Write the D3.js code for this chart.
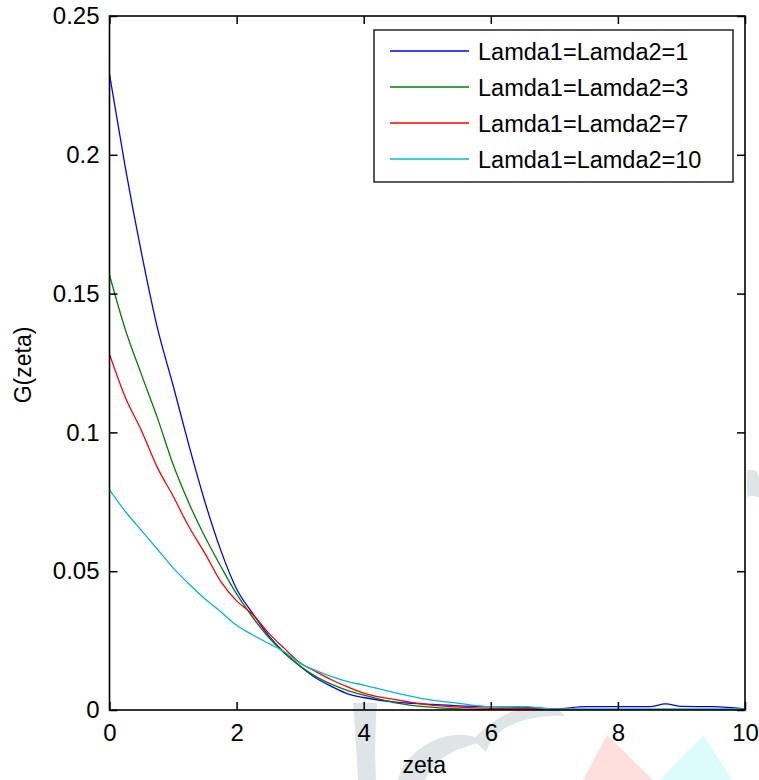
<!DOCTYPE html>
<html>
<head>
<meta charset="utf-8">
<script src="https://cdn.jsdelivr.net/npm/d3@7"></script>
<style>
  html, body { margin: 0; padding: 0; background: #fff; }
  svg { display: block; font-family: "Liberation Sans", Arial, sans-serif; }
</style>
</head>
<body>
<svg id="chart" width="759" height="780"></svg>
<script>
// ---- data ----
const zeta = [0, 0.25, 0.5, 0.75, 1, 1.25, 1.5, 1.75, 2, 2.25, 2.5, 2.75, 3, 3.25, 3.5, 3.75, 4, 4.5, 5, 5.5, 6, 6.5, 7, 7.5, 8, 8.5, 8.75, 9, 9.5, 10];
const gLamda1 = [0.2290, 0.1953, 0.1650, 0.1380, 0.1170, 0.0953, 0.0751, 0.0576, 0.0436, 0.0349, 0.0269, 0.0207, 0.0158, 0.0115, 0.0084, 0.0058, 0.0045, 0.0028, 0.0021, 0.0015, 0.0012, 0.0010, 0.0004, 0.0012, 0.0012, 0.0012, 0.0022, 0.0013, 0.0012, 0.0004];
const gLamda3 = [0.1567, 0.1370, 0.1210, 0.1055, 0.0885, 0.0745, 0.0625, 0.0518, 0.0418, 0.0335, 0.0263, 0.0205, 0.0158, 0.0120, 0.0092, 0.0070, 0.0054, 0.0026, 0.0011, 0.0004, 0.0002, 0.0001, 0.0001, 0.0001, 0.0001, 0.0001, 0.0001, 0.0001, 0.0001, 0.0001];
const gLamda7 = [0.1282, 0.1126, 0.1008, 0.0875, 0.0771, 0.0660, 0.0565, 0.0463, 0.0393, 0.0345, 0.0278, 0.0222, 0.0170, 0.0138, 0.0108, 0.0083, 0.0061, 0.0037, 0.0019, 0.0010, 0.0006, 0.0006, 0.0002, 0.0001, 0.0001, 0.0001, 0.0001, 0.0001, 0.0001, 0.0001];
const gLamda10 = [0.0793, 0.0715, 0.0647, 0.0580, 0.0512, 0.0454, 0.0401, 0.0354, 0.0305, 0.0271, 0.0240, 0.0210, 0.0168, 0.0142, 0.0120, 0.0102, 0.0090, 0.0062, 0.0038, 0.0024, 0.0012, 0.0012, 0.0004, 0.0004, 0.0004, 0.0004, 0.0004, 0.0004, 0.0004, 0.0004];
const seriesNames = ["Lamda1=Lamda2=1", "Lamda1=Lamda2=3", "Lamda1=Lamda2=7", "Lamda1=Lamda2=10"];
const seriesColors = ["#0000ff", "#008000", "#ff0000", "#00bfbf"];
const xTicks = [0, 2, 4, 6, 8, 10];
const yTicks = [0, 0.05, 0.1, 0.15, 0.2, 0.25];
const yTickLabels = ["0", "0.05", "0.1", "0.15", "0.2", "0.25"];
const xLabel = "zeta";
const yLabel = "G(zeta)";

const seriesValues = [gLamda1, gLamda3, gLamda7, gLamda10];

// ---- layout ----
const svg = d3.select("#chart");
const pLeft = 109.5, pRight = 745, pTop = 16, pBottom = 710;
const x = d3.scaleLinear().domain([0, 10]).range([pLeft, pRight]);
const y = d3.scaleLinear().domain([0, 0.25]).range([pBottom, pTop]);

svg.append("rect").attr("width", 759).attr("height", 780).attr("fill", "#fff");

// faint watermark shapes (background)
const wm = svg.append("g").attr("class", "watermark");
wm.append("path").attr("d", "M353,703 L377,703 Q374,740 376,780 L358,780 Q356,740 353,703 Z").attr("fill", "#dfe4e7");
wm.append("path").attr("d", "M398,780 Q405,752 440,738 Q470,730 482,742 Q455,748 440,760 Q428,772 425,780 Z").attr("fill", "#dfe4e7");
wm.append("path").attr("d", "M473,740 Q500,708 540,706 Q560,708 565,716 Q530,714 505,728 Q490,738 486,752 Z").attr("fill", "#dfe4e7");
wm.append("path").attr("d", "M607,735 L653,780 L583,780 Z").attr("fill", "#ffdede");
wm.append("path").attr("d", "M703,735 L732,780 L660,780 Z").attr("fill", "#dcfcfc");
wm.append("path").attr("d", "M747,470 Q759,468 759,478 L759,498 Q752,494 747,497 Z").attr("fill", "#dfe4e7");

// clip
svg.append("defs").append("clipPath").attr("id", "plotclip")
  .append("rect").attr("x", pLeft).attr("y", pTop).attr("width", pRight - pLeft).attr("height", pBottom - pTop);

// lines
const line = d3.line().x((d, i) => x(zeta[i])).y(d => y(d)).curve(d3.curveMonotoneX);
const lines = svg.append("g").attr("clip-path", "url(#plotclip)");
seriesValues.forEach((vals, k) => {
  lines.append("path")
    .datum(vals)
    .attr("d", line)
    .attr("fill", "none")
    .attr("stroke", seriesColors[k])
    .attr("stroke-width", 1.3);
});

// axes (MATLAB style box with inward ticks)
const tickLen = 8;
const axisBottom = d3.axisBottom(x).tickValues(xTicks).tickSize(-tickLen).tickPadding(14).tickFormat(d3.format("d"));
const axisTop = d3.axisTop(x).tickValues(xTicks).tickSize(-tickLen).tickFormat("");
const axisLeft = d3.axisLeft(y).tickValues(yTicks).tickSize(-tickLen).tickPadding(10).tickFormat((d, i) => yTickLabels[i]);
const axisRight = d3.axisRight(y).tickValues(yTicks).tickSize(-tickLen).tickFormat("");

function styleAxis(g) {
  g.select(".domain").remove();
  g.selectAll(".tick line").attr("stroke", "#000").attr("stroke-width", 1.5);
  g.selectAll(".tick text").attr("fill", "#000").style("font-size", "24px")
    .style("font-family", "'Liberation Sans', Arial, sans-serif");
}
svg.append("g").attr("transform", `translate(0,${pBottom})`).call(axisBottom).call(styleAxis);
svg.append("g").attr("transform", `translate(0,${pTop})`).call(axisTop).call(styleAxis);
svg.append("g").attr("transform", `translate(${pLeft},0)`).call(axisLeft).call(styleAxis);
svg.append("g").attr("transform", `translate(${pRight},0)`).call(axisRight).call(styleAxis);

svg.append("rect")
  .attr("x", pLeft).attr("y", pTop).attr("width", pRight - pLeft).attr("height", pBottom - pTop)
  .attr("fill", "none").attr("stroke", "#000").attr("stroke-width", 1.6);

// axis labels
svg.append("text").attr("x", (pLeft + pRight) / 2 - 3).attr("y", 773)
  .attr("text-anchor", "middle").style("font-size", "23px").text(xLabel);
svg.append("text").attr("transform", `translate(31,${(pTop + pBottom) / 2 + 2}) rotate(-90)`)
  .attr("text-anchor", "middle").style("font-size", "23px").text(yLabel);

// legend
const lg = svg.append("g");
lg.append("rect").attr("x", 374).attr("y", 30).attr("width", 359).attr("height", 152)
  .attr("fill", "#fff").attr("stroke", "#000").attr("stroke-width", 1.3);
seriesNames.forEach((name, k) => {
  const ry = 51 + k * 36;
  lg.append("line").attr("x1", 390).attr("x2", 469).attr("y1", ry).attr("y2", ry)
    .attr("stroke", seriesColors[k]).attr("stroke-width", 1.3);
  lg.append("text").attr("x", 478).attr("y", ry + 8.5).style("font-size", "23.5px").text(name);
});
</script>
</body>
</html>
